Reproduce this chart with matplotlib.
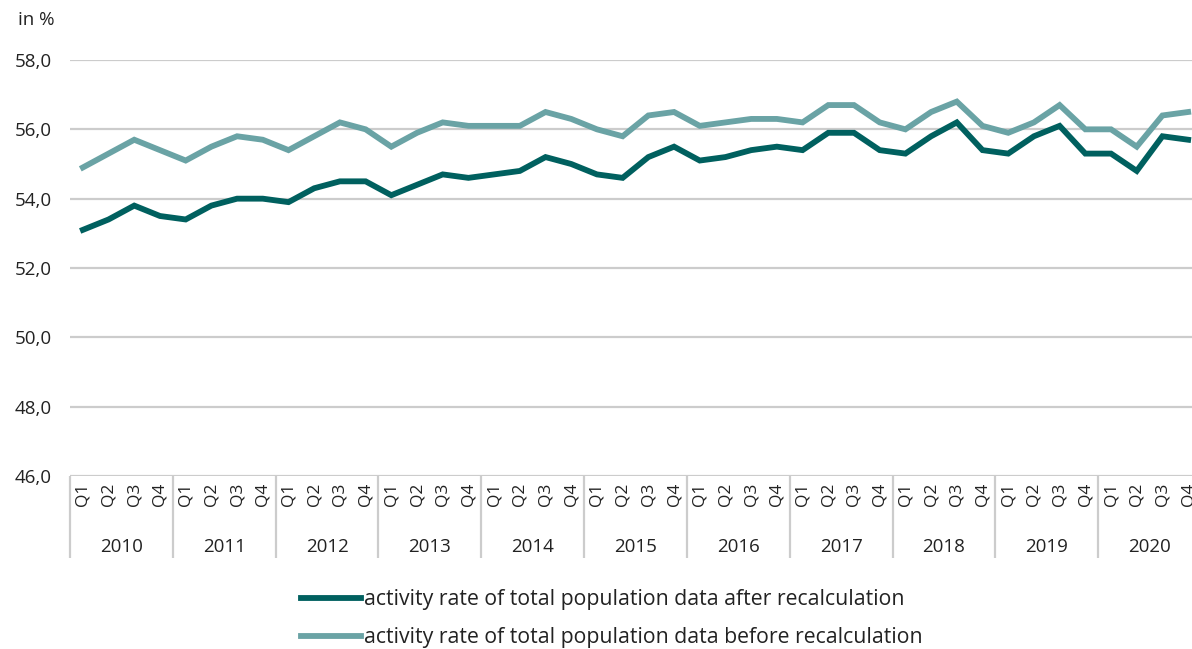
import matplotlib
matplotlib.use("Agg")
import matplotlib.pyplot as plt

plt.rcParams['font.family'] = ['Open Sans', 'DejaVu Sans']

years = [str(y) for y in range(2010, 2021)]
quarters = ['Q1', 'Q2', 'Q3', 'Q4']

after = [53.1, 53.4, 53.8, 53.5,
         53.4, 53.8, 54.0, 54.0,
         53.9, 54.3, 54.5, 54.5,
         54.1, 54.4, 54.7, 54.6,
         54.7, 54.8, 55.2, 55.0,
         54.7, 54.6, 55.2, 55.5,
         55.1, 55.2, 55.4, 55.5,
         55.4, 55.9, 55.9, 55.4,
         55.3, 55.8, 56.2, 55.4,
         55.3, 55.8, 56.1, 55.3,
         55.3, 54.8, 55.8, 55.7]

before = [54.9, 55.3, 55.7, 55.4,
          55.1, 55.5, 55.8, 55.7,
          55.4, 55.8, 56.2, 56.0,
          55.5, 55.9, 56.2, 56.1,
          56.1, 56.1, 56.5, 56.3,
          56.0, 55.8, 56.4, 56.5,
          56.1, 56.2, 56.3, 56.3,
          56.2, 56.7, 56.7, 56.2,
          56.0, 56.5, 56.8, 56.1,
          55.9, 56.2, 56.7, 56.0,
          56.0, 55.5, 56.4, 56.5]

yticks = [46, 48, 50, 52, 54, 56, 58]

dark = '#00605f'
light = '#6aa3a5'
grid = '#cccccc'
txt = '#222222'

fig = plt.figure(figsize=(11.92, 6.49), dpi=100)
ax = fig.add_axes([70 / 1192, 1 - 476 / 649, 1131 / 1192, 416 / 649])

x = list(range(len(after)))
l1, = ax.plot(x, after, color=dark, lw=4.2, solid_joinstyle='miter',
              label='activity rate of total population data after recalculation')
l2, = ax.plot(x, before, color=light, lw=4.2, solid_joinstyle='miter',
              label='activity rate of total population data before recalculation')

ax.set_xlim(-0.5, len(x) - 0.5)
ax.set_ylim(46, 58)
ax.set_yticks(yticks)
ax.set_yticklabels([f'{v:.1f}'.replace('.', ',') for v in yticks], fontsize=13.5, color=txt)
ax.yaxis.grid(True, color=grid, lw=1.6)
ax.set_axisbelow(True)
for s in ax.spines.values():
    s.set_visible(False)
ax.tick_params(axis='y', length=0, pad=13)

ax.set_xticks(x)
ax.set_xticklabels(quarters * len(years), rotation=90, fontsize=12.5, color=txt)
ax.tick_params(axis='x', length=0, pad=5)

tr = ax.get_xaxis_transform()
for i, yr in enumerate(years):
    ax.text(i * 4 + 1.5, -0.171, yr, transform=tr, ha='center', va='center',
            fontsize=13.5, color=txt)
ax.vlines([i * 4 - 0.5 for i in range(len(years) + 1)], -0.197, 0, transform=tr,
          color=grid, lw=1.6, clip_on=False)

fig.text(18 / 1192, 1 - 20 / 649, 'in %', fontsize=13.5, color=txt, va='center')

fig.legend(handles=[l1, l2], loc='center', bbox_to_anchor=(0.513, 1 - 619 / 649),
           frameon=False, fontsize=15.3, handlelength=2.85, handletextpad=0.1,
           labelspacing=0.8, labelcolor=txt)

fig.savefig('out.png', dpi=100)
